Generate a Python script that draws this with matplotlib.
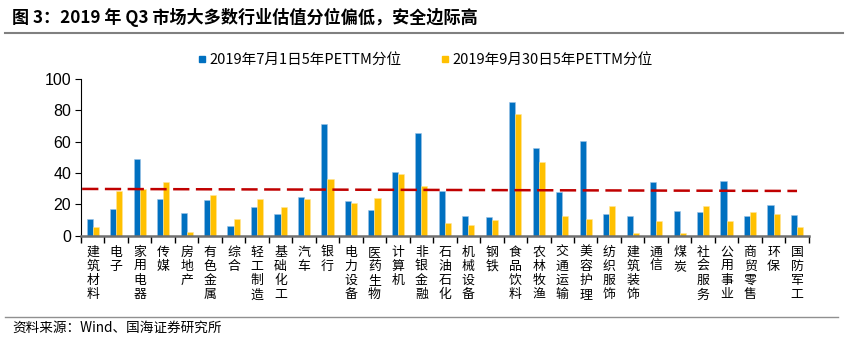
"""Q3 2019 industry valuation percentile chart (grouped bars + dashed reference line)."""

import matplotlib
matplotlib.use("Agg")
import matplotlib.pyplot as plt
from matplotlib.lines import Line2D
import numpy as np

plt.rcParams["font.family"] = ["Noto Sans CJK SC", "DejaVu Sans"]

# ---------------------------------------------------------------------------
# Data
# ---------------------------------------------------------------------------

categories = [
    "建筑材料", "电子", "家用电器", "传媒", "房地产", "有色金属", "综合", "轻工制造",
    "基础化工", "汽车", "银行", "电力设备", "医药生物", "计算机", "非银金融", "石油石化",
    "机械设备", "钢铁", "食品饮料", "农林牧渔", "交通运输", "美容护理", "纺织服饰",
    "建筑装饰", "通信", "煤炭", "社会服务", "公用事业", "商贸零售", "环保", "国防军工",
]

pe_jul = [10.6, 17.0, 48.9, 23.6, 14.5, 23.0, 6.2, 18.5,
          13.8, 24.9, 71.3, 22.3, 16.4, 40.6, 65.5, 28.5,
          12.6, 12.1, 85.1, 56.2, 28.1, 60.4, 13.6,
          12.6, 34.5, 16.0, 14.9, 34.9, 12.6, 19.6, 13.2]

pe_sep = [5.3, 28.3, 29.8, 34.3, 2.1, 25.7, 10.9, 23.4,
          18.3, 23.4, 36.2, 21.1, 23.8, 39.6, 31.7, 8.1,
          6.8, 10.0, 77.7, 47.0, 12.8, 10.9, 18.9,
          1.7, 9.6, 1.7, 18.7, 9.1, 15.1, 13.8, 5.5]

ref_line = [29.8, 28.5]  # dashed line: value at first and last category

series_labels = ["2019年7月1日5年PETTM分位", "2019年9月30日5年PETTM分位"]
y_ticks = [0, 20, 40, 60, 80, 100]

title = "图 3：2019 年 Q3 市场大多数行业估值分位偏低，安全边际高"
source = "资料来源：Wind、国海证券研究所"

BLUE = "#0070C0"
GOLD = "#FFC000"
RED = "#C00000"

# ---------------------------------------------------------------------------
# Figure
# ---------------------------------------------------------------------------

fig = plt.figure(figsize=(8.46, 3.43), dpi=100)
ax = fig.add_axes([0.0957, 0.313, 0.8603, 0.457])

x = np.arange(len(categories))
w = 0.26
ax.bar(x - w / 2, pe_jul, w, color=BLUE, edgecolor="#9CC3E6", linewidth=0.4)
ax.bar(x + w / 2, pe_sep, w, color=GOLD, edgecolor="#FFE699", linewidth=0.4)

ax.plot([-0.45, len(categories) - 1], ref_line, color=RED, linestyle=(0, (6.5, 2.6)),
        linewidth=1.8)

ax.set_xlim(-0.5, len(categories) - 0.5)
ax.set_ylim(0, 100)
ax.set_yticks(y_ticks)
ax.set_yticklabels([str(t) for t in y_ticks], fontsize=11.5, family="Liberation Sans")

# category boundaries as ticks, labels stacked vertically in between
ax.set_xticks(np.arange(len(categories) + 1) - 0.5)
ax.set_xticklabels([])
ax.tick_params(axis="x", length=5, width=1, color="#000000", direction="out")
ax.tick_params(axis="y", length=4, width=0.8, direction="out", pad=3)
for i, name in enumerate(categories):
    ax.text(i, -6.5, "\n".join(name), ha="center", va="top", fontsize=9.3,
            linespacing=1.12, color="#000000")

for side in ("top", "right"):
    ax.spines[side].set_visible(False)
ax.spines["left"].set_color("#000000")
ax.spines["left"].set_linewidth(0.8)
ax.spines["bottom"].set_color("#707070")
ax.spines["bottom"].set_linewidth(1.8)

handles = [Line2D([], [], marker="s", linestyle="", color=BLUE, markersize=5),
           Line2D([], [], marker="s", linestyle="", color=GOLD, markersize=5)]
fig.legend(handles, series_labels, loc="center", bbox_to_anchor=(0.502, 0.825), ncol=2,
           frameon=False, fontsize=10.5, handletextpad=0.1, columnspacing=2.6,
           handlelength=0.8)

# title, rules, source
fig.text(0.014, 0.95, title, fontsize=12.3, fontweight="bold", ha="left", va="center")
fig.add_artist(Line2D([0.006, 0.997], [0.904, 0.904], color="#808080", linewidth=1.5))
fig.add_artist(Line2D([0.006, 0.99], [0.076, 0.076], color="#909090", linewidth=1.0))
fig.text(0.014, 0.044, source, fontsize=9.8, ha="left", va="center")

fig.savefig("out.png", dpi=100)
